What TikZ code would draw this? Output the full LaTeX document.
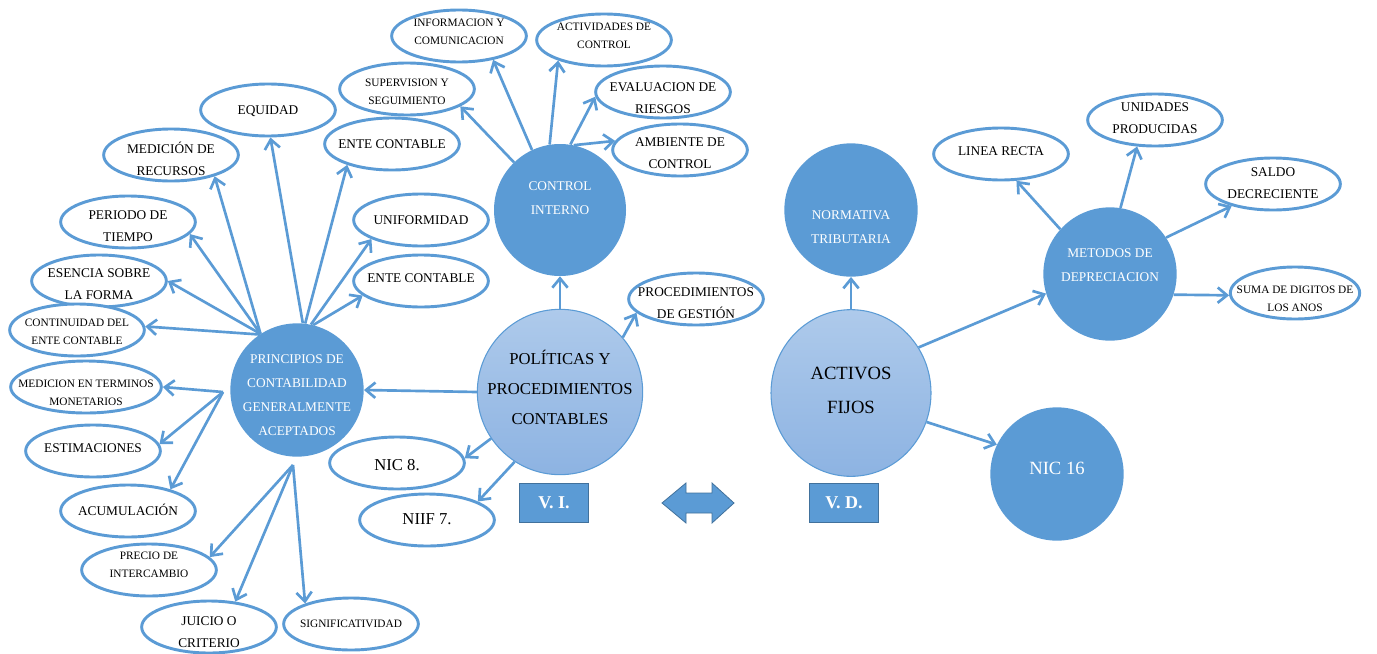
\documentclass[tikz,border=0pt]{standalone}
\usepackage{fontspec}
\setmainfont{Liberation Serif}
\usepackage{tikz}
\usetikzlibrary{arrows.meta,shapes.geometric}

\definecolor{azul}{RGB}{91,155,213}
\definecolor{azulclaro}{RGB}{174,202,235}
\definecolor{azulmedio}{RGB}{141,179,226}
\definecolor{azulborde}{RGB}{65,113,156}

% texto centrado sin ocupar sitio (el 1er argumento baja el texto, en px)
\newcommand{\rotulo}[2][0]{\smash{\makebox[0pt]{\raisebox{\dimexpr-0.24em-0.75pt*#1\relax}{\begin{tabular}{@{}c@{}}#2\end{tabular}}}}}

\begin{document}
\begin{tikzpicture}[x=0.75pt,y=0.75pt,yscale=-1,xscale=1,
  elipse/.style={ellipse,draw=azul,line width=2.2pt,fill=white,inner sep=0pt,
    minimum width=101pt,minimum height=39pt,font=\fontsize{10}{17}\selectfont},
  elipsechica/.style={elipse,font=\fontsize{8.5}{13.5}\selectfont},
  elipsegrande/.style={elipse,font=\fontsize{12.5}{16}\selectfont},
  circulo/.style={circle,fill=azul,inner sep=0pt,minimum size=100pt,
    text=white,font=\fontsize{10}{18}\selectfont},
  central/.style={ellipse,draw=azul,line width=0.8pt,top color=azulclaro,
    bottom color=azulmedio,inner sep=0pt,font=\fontsize{12.5}{22.5}\selectfont},
  cajavar/.style={rectangle,fill=azul,draw=azulborde,line width=0.8pt,
    minimum width=52pt,minimum height=29pt,text=white,
    font=\fontsize{13.5}{16}\selectfont\bfseries},
  flecha/.style={draw=azul,line width=2pt,-{Straight Barb[length=7pt,width=11.5pt]}}]
\useasboundingbox (0,0) rectangle (1377,653);

%Shape: Circle (variables)
\node [central,minimum width=124pt,minimum height=124pt] (politicas) at (560,392) {\rotulo[-4]{POLÍTICAS Y\\PROCEDIMIENTOS\\CONTABLES}};
\node [central,minimum width=120pt,minimum height=125pt,font=\fontsize{14}{25.5}\selectfont] (activos) at (851,393) {\rotulo[-3]{ACTIVOS\\FIJOS}};

%Shape: Circle
\node [circulo] (principios) at (297,390) {\rotulo[5]{PRINCIPIOS DE\\CONTABILIDAD\\GENERALMENTE\\ACEPTADOS}};
\node [circulo,minimum size=99pt] (control) at (560,210) {\rotulo[-12]{CONTROL\\INTERNO}};
\node [circulo] (normativa) at (851,210) {\rotulo[17]{NORMATIVA\\TRIBUTARIA}};
\node [circulo] (metodos) at (1110,274) {\rotulo[-9]{METODOS DE\\DEPRECIACION}};
\node [circulo,font=\fontsize{14}{17}\selectfont] (nic16) at (1057,474) {\rotulo[-4]{NIC 16}};

%Shape: Ellipse (principios)
\node [elipse] (equidad) at (268,110) {\rotulo{EQUIDAD}};
\node [elipse] (medrec) at (171,155) {\rotulo[5]{MEDICIÓN DE\\RECURSOS}};
\node [elipse] (periodo) at (128,222) {\rotulo[4]{PERIODO DE\\TIEMPO}};
\node [elipse] (esencia) at (99,281) {\rotulo[3]{ESENCIA SOBRE\\LA FORMA}};
\node [elipsechica] (continuidad) at (77,330) {\rotulo[2]{CONTINUIDAD DEL\\ENTE CONTABLE}};
\node [elipsechica,minimum width=113pt] (medmon) at (86,387) {\rotulo[6]{MEDICION EN TERMINOS\\MONETARIOS}};
\node [elipse] (estimaciones) at (93,451) {\rotulo[-3]{ESTIMACIONES}};
\node [elipse] (acumulacion) at (128,511) {\rotulo{ACUMULACIÓN}};
\node [elipsechica] (precio) at (149,570) {\rotulo[-5]{PRECIO DE\\INTERCAMBIO}};
\node [elipse] (juicio) at (209,627) {\rotulo[5]{JUICIO O\\CRITERIO}};
\node [elipsechica] (significatividad) at (351,624) {\rotulo{SIGNIFICATIVIDAD}};
\node [elipse] (ente1) at (392,144) {\rotulo{ENTE CONTABLE}};
\node [elipse] (uniformidad) at (421,220) {\rotulo{UNIFORMIDAD}};
\node [elipse] (ente2) at (421,281) {\rotulo[-3]{ENTE CONTABLE}};

%Shape: Ellipse (politicas)
\node [elipsegrande] (nic8) at (397,463) {\rotulo[3]{NIC 8.}};
\node [elipsegrande] (niif7) at (427,520) {\rotulo{NIIF 7.}};
\node [elipse] (procedimientos) at (696,299) {\rotulo[4]{PROCEDIMIENTOS\\DE GESTIÓN}};

%Shape: Ellipse (control interno)
\node [elipsechica] (supervision) at (407,89) {\rotulo[3]{SUPERVISION Y\\SEGUIMIENTO}};
\node [elipsechica] (informacion) at (459,36) {\rotulo[-4]{INFORMACION Y\\COMUNICACION}};
\node [elipsechica] (actividades) at (604,40) {\rotulo[-4]{ACTIVIDADES DE\\CONTROL}};
\node [elipse] (evaluacion) at (663,92) {\rotulo[6]{EVALUACION DE\\RIESGOS}};
\node [elipse] (ambiente) at (680,150) {\rotulo[3]{AMBIENTE DE\\CONTROL}};

%Shape: Ellipse (metodos)
\node [elipse] (linea) at (1001,154) {\rotulo[-3]{LINEA RECTA}};
\node [elipse] (unidades) at (1155,120) {\rotulo[-2]{UNIDADES\\PRODUCIDAS}};
\node [elipse] (saldo) at (1273,184) {\rotulo[-1]{SALDO\\DECRECIENTE}};
\node [elipsechica,minimum width=97pt] (suma) at (1295,293) {\rotulo[6]{SUMA DE DIGITOS DE\\LOS ANOS}};

%Shape: Rectangle
\node [cajavar] (vi) at (554,503) {V. I.};
\node [cajavar] (vd) at (844,503) {V. D.};

%Shape: Left Right Arrow
\filldraw [fill=azul,draw=azulborde,line width=0.6pt] (662,503) -- (686,483) -- (686,493) -- (712,493) -- (712,483) -- (734,503) -- (712,523) -- (712,513) -- (686,513) -- (686,523) -- cycle;

\coordinate (nudo1) at (223,392);
\coordinate (nudo2) at (293,465);

%Straight Lines
\draw [flecha] (principios.123) -- (medrec.334);
\draw [flecha] (principios.123) -- (periodo.349);
\draw [flecha] (principios.123) -- (esencia.0);
\draw [flecha] (principios.124) -- (continuidad.3);
\draw [flecha] (principios.85) -- (equidad.275);
\draw [flecha] (principios.83) -- (ente1.205);
\draw [flecha] (principios.78) -- (uniformidad.201);
\draw [flecha] (principios.76) -- (ente2.194);
\draw [flecha] (nudo1) -- (medmon.east);
\draw [flecha] (nudo1) -- (estimaciones.6);
\draw [flecha] (nudo1) -- (acumulacion.27);
\draw [flecha] (nudo2) -- (precio.12);
\draw [flecha] (nudo2) -- (juicio.44);
\draw [flecha] (nudo2) -- (significatividad.156);

\draw [flecha] (politicas.west) -- (principios.east);
\draw [flecha] (politicas.214) -- (nic8.4);
\draw [flecha] (politicas.237) -- (niif7.20);
\draw [flecha] (politicas.north) -- (control.south);
\draw [flecha] (politicas.41) -- (procedimientos.193);

\draw [flecha] (control.134) -- (supervision.342);
\draw [flecha] (control.115) -- (informacion.325);
\draw [flecha] (control.99) -- (actividades.204);
\draw [flecha] (control.81) -- (evaluacion.184);
\draw [flecha] (control.78) -- (ambiente.172);

\draw [flecha] (activos.north) -- (normativa.south);
\draw [flecha] (activos.34) -- (metodos.197);
\draw [flecha] (activos.339) -- (nic16.154);

\draw [flecha] (metodos.138) -- (linea.300);
\draw [flecha] (metodos.81) -- (unidades.236);
\draw [flecha] (metodos.33) -- (saldo.208);
\draw [flecha] (metodos.342) -- (suma.182);

\end{tikzpicture}
\end{document}
